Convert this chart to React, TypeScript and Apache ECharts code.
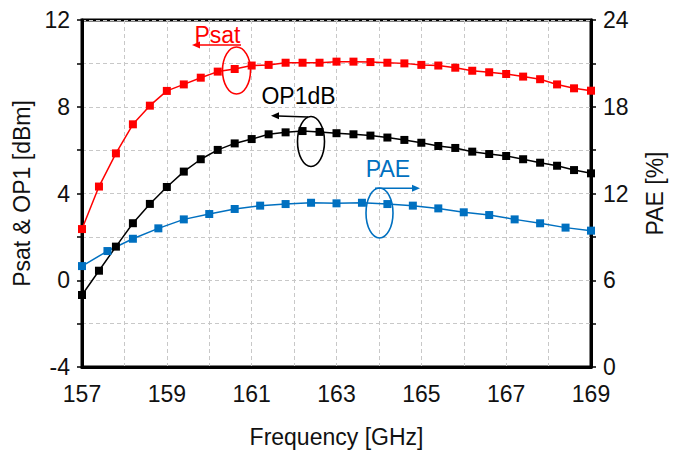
import React, { useEffect, useRef } from "react";
import * as echarts from "echarts";

const freqP: number[] = [157.0, 157.4, 157.8, 158.2, 158.6, 159.0, 159.4, 159.8, 160.2, 160.6, 161.0, 161.4, 161.8, 162.2, 162.6, 163.0, 163.4, 163.8, 164.2, 164.6, 165.0, 165.4, 165.8, 166.2, 166.6, 167.0, 167.4, 167.8, 168.2, 168.6, 169.0];
const psat: number[] = [2.36, 4.32, 5.85, 7.19, 8.05, 8.73, 9.03, 9.34, 9.62, 9.74, 9.9, 9.93, 10.03, 10.03, 10.03, 10.08, 10.08, 10.06, 10.03, 10.0, 9.93, 9.9, 9.8, 9.66, 9.59, 9.51, 9.39, 9.27, 9.03, 8.85, 8.74];
const op1db: number[] = [-0.68, 0.44, 1.55, 2.63, 3.52, 4.3, 5.01, 5.58, 6.01, 6.31, 6.51, 6.73, 6.82, 6.88, 6.84, 6.78, 6.73, 6.67, 6.58, 6.47, 6.34, 6.19, 6.1, 5.93, 5.82, 5.73, 5.58, 5.42, 5.28, 5.08, 4.93];
const freqPAE: number[] = [157.0, 157.6, 158.2, 158.8, 159.4, 160.0, 160.6, 161.2, 161.8, 162.4, 163.0, 163.6, 164.2, 164.8, 165.4, 166.0, 166.6, 167.2, 167.8, 168.4, 169.0];
const pae: number[] = [6.98, 8.02, 8.87, 9.59, 10.21, 10.58, 10.93, 11.16, 11.27, 11.36, 11.32, 11.36, 11.27, 11.16, 10.97, 10.7, 10.51, 10.21, 9.94, 9.64, 9.43];
const xTickLabels: number[] = [157, 159, 161, 163, 165, 167, 169];
const yLeftTickLabels: number[] = [-4, 0, 4, 8, 12];
const yRightTickLabels: number[] = [0, 6, 12, 18, 24];

const FONT = "'Liberation Sans', Arial, sans-serif";
const RED = "#ff0000";
const BLUE = "#0070c0";
const BLACK = "#000000";

function zip(xs: number[], ys: number[]) {
  return xs.map((x, i) => [x, ys[i]]);
}

export default function App() {
  const ref = useRef<HTMLDivElement>(null);
  useEffect(() => {
    if (!ref.current) return;
    const chart = echarts.init(ref.current, null, { renderer: "svg" });
    const lineSeries = (name: string, data: number[][], color: string, yAxisIndex: number) => ({
      name,
      type: "line",
      data,
      yAxisIndex,
      symbol: "rect",
      symbolSize: 8,
      clip: false,
      lineStyle: { color, width: 1.5 },
      itemStyle: { color },
      z: 5,
    });
    const arrowLine = (x1: number, y1: number, x2: number, y2: number, color: string) => ({
      type: "line",
      shape: { x1, y1, x2, y2 },
      style: { stroke: color, lineWidth: 1.5 },
      z: 10,
    });
    const head = (tx: number, ty: number, dir: number, color: string) => ({
      type: "polygon",
      shape: { points: [[tx, ty], [tx - dir * 8, ty - 3.5], [tx - dir * 8, ty + 3.5]] },
      style: { fill: color },
      z: 10,
    });
    const ell = (cx: number, cy: number, rx: number, ry: number, color: string) => ({
      type: "ellipse",
      shape: { cx, cy, rx, ry },
      style: { fill: "none", stroke: color, lineWidth: 1.6 },
      z: 10,
    });
    const label = (text: string, x: number, y: number, color: string) => ({
      type: "text",
      style: { text, x, y, align: "center", verticalAlign: "middle", fontSize: 23, fontFamily: FONT, fill: color },
      z: 10,
    });
    chart.setOption({
      animation: false,
      backgroundColor: "#ffffff",
      grid: { left: 82, right: 74, top: 20, bottom: 86, show: true, borderColor: BLACK, borderWidth: 3, backgroundColor: "transparent" },
      xAxis: {
        type: "value",
        min: 157,
        max: 169,
        interval: 1,
        name: "Frequency [GHz]",
        nameLocation: "middle",
        nameGap: 58,
        nameTextStyle: { fontSize: 23, fontFamily: FONT, color: "#111" },
        axisLine: { show: true, onZero: false, lineStyle: { color: BLACK, width: 3 } },
        axisTick: { show: false },
        axisLabel: {
          fontSize: 23,
          fontFamily: FONT,
          color: "#111",
          margin: 15,
          formatter: (v: number) => (xTickLabels.indexOf(Math.round(v)) >= 0 && Math.abs(v - Math.round(v)) < 1e-6 ? String(Math.round(v)) : ""),
        },
        splitLine: { show: true, lineStyle: { color: "#c8c8c8", type: [4, 3], width: 1 } },
      },
      yAxis: [
        {
          type: "value",
          min: -4,
          max: 12,
          interval: 2,
          name: "Psat & OP1 [dBm]",
          nameLocation: "middle",
          nameGap: 45,
          nameTextStyle: { fontSize: 23, fontFamily: FONT, color: "#111" },
          axisLine: { show: true, onZero: false, lineStyle: { color: BLACK, width: 3 } },
          axisTick: { show: true, length: 5, lineStyle: { color: BLACK, width: 1.5 } },
          axisLabel: {
            fontSize: 23,
            fontFamily: FONT,
            color: "#111",
            margin: 12,
            formatter: (v: number) => (yLeftTickLabels.indexOf(Math.round(v)) >= 0 ? String(Math.round(v)) : ""),
          },
          splitLine: { show: true, lineStyle: { color: "#c8c8c8", type: [4, 3], width: 1 } },
        },
        {
          type: "value",
          min: 0,
          max: 24,
          interval: 3,
          position: "right",
          name: "PAE [%]",
          nameLocation: "middle",
          nameGap: 52,
          nameRotate: 90,
          nameTextStyle: { fontSize: 23, fontFamily: FONT, color: "#111" },
          axisLine: { show: true, onZero: false, lineStyle: { color: BLACK, width: 3 } },
          axisTick: { show: true, length: 5, lineStyle: { color: BLACK, width: 1.5 } },
          axisLabel: {
            fontSize: 23,
            fontFamily: FONT,
            color: "#111",
            margin: 12,
            formatter: (v: number) => (yRightTickLabels.indexOf(Math.round(v)) >= 0 ? String(Math.round(v)) : ""),
          },
          splitLine: { show: false },
        },
      ],
      series: [
        lineSeries("Psat", zip(freqP, psat), RED, 0),
        lineSeries("OP1dB", zip(freqP, op1db), BLACK, 0),
        lineSeries("PAE", zip(freqPAE, pae), BLUE, 1),
      ],
      graphic: [
        label("Psat", 217.5, 35, RED),
        arrowLine(241, 45, 198, 45, RED),
        head(192, 45, -1, RED),
        ell(236.5, 70.5, 14, 23.5, RED),
        label("OP1dB", 298.5, 95.5, BLACK),
        arrowLine(308, 117, 278, 116, BLACK),
        head(271, 115.7, -1, BLACK),
        ell(311, 141.5, 13.5, 25, BLACK),
        label("PAE", 388, 169, BLUE),
        arrowLine(375, 188.3, 414, 188.3, BLUE),
        head(420, 188.3, 1, BLUE),
        ell(379.5, 213, 13.5, 25, BLUE),
      ],
    });
    return () => chart.dispose();
  }, []);
  return <div ref={ref} style={{ position: "fixed", left: 0, top: 0, width: 674, height: 453, background: "#fff" }} />;
}
